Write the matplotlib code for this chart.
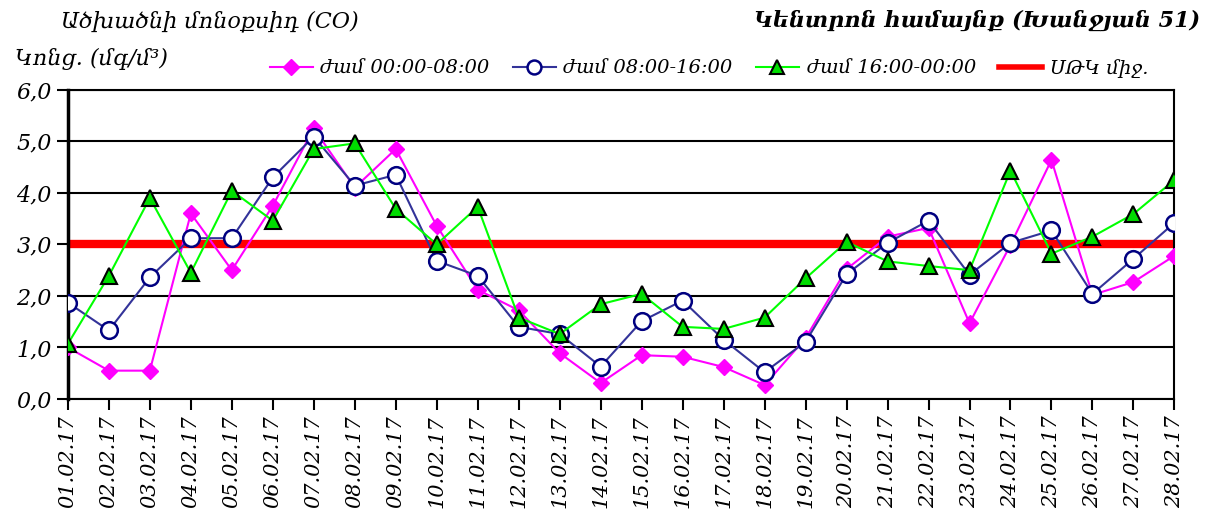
import matplotlib
matplotlib.use("Agg")
import matplotlib.pyplot as plt
from matplotlib.lines import Line2D

plt.rcParams['font.family'] = ['DejaVu Serif', 'DejaVu Sans']
plt.rcParams['font.style'] = 'italic'

dates = ["%02d.02.17" % d for d in range(1, 29)]

night = [1.0, 0.55, 0.55, 3.6, 2.5, 3.75, 5.25, 4.1, 4.85, 3.36,
         2.12, 1.72, 0.89, 0.31, 0.85, 0.82, 0.62, 0.27, 1.18, 2.52,
         3.15, 3.32, 1.47, 2.99, 4.64, 2.02, 2.27, 2.78]
day = [1.87, 1.33, 2.36, 3.12, 3.12, 4.3, 5.09, 4.14, 4.35, 2.68,
       2.39, 1.40, 1.26, 0.63, 1.51, 1.91, 1.15, 0.52, 1.11, 2.42,
       3.03, 3.46, 2.41, 3.03, 3.27, 2.04, 2.72, 3.42]
evening = [1.07, 2.39, 3.9, 2.45, 4.04, 3.46, 4.85, 4.96, 3.69, 3.0,
           3.73, 1.58, 1.26, 1.84, 2.04, 1.40, 1.36, 1.58, 2.34, 3.05,
           2.67, 2.58, 2.5, 4.43, 2.82, 3.15, 3.59, 4.25]
limit = 3.0

labels = ["ժամ 00:00-08:00", "ժամ 08:00-16:00", "ժամ 16:00-00:00", "ՍԹԿ միջ."]

fig = plt.figure(figsize=(12.12, 5.25), dpi=100)
ax = fig.add_axes([0.056, 0.24, 0.913, 0.589])

x = list(range(len(dates)))
ax.plot(x, [limit] * len(x), color='#ff0000', lw=6, zorder=2)
ax.plot(x, night, color='#ff00ff', lw=1.5, marker='D', ms=8,
        mfc='#ff00ff', mec='#ff00ff', zorder=3)
ax.plot(x, day, color='#333399', lw=1.5, marker='o', ms=12,
        mfc='white', mec='#000080', mew=1.8, zorder=4)
ax.plot(x, evening, color='#00ff00', lw=1.5, marker='^', ms=12,
        mfc='#00dd00', mec='black', mew=1.5, zorder=5)

ax.set_xlim(0, len(dates) - 1)
ax.set_ylim(0, 6)
ax.set_yticks([0, 1, 2, 3, 4, 5, 6])
ax.set_yticklabels([("%.1f" % v).replace('.', ',') for v in range(7)], fontsize=16)
ax.set_xticks(x)
ax.set_xticklabels(dates, rotation=90, fontsize=15)
ax.yaxis.grid(True, color='black', lw=1.5)
ax.set_axisbelow(True)
ax.tick_params(axis='both', direction='out', length=8, width=1.5, color='black')
for s in ax.spines.values():
    s.set_linewidth(1.5)
ax.spines['left'].set_linewidth(2.5)

handles = [
    Line2D([], [], color='#ff00ff', lw=1.5, marker='D', ms=8, mfc='#ff00ff', mec='#ff00ff'),
    Line2D([], [], color='#333399', lw=1.5, marker='o', ms=10, mfc='white', mec='#000080', mew=1.8),
    Line2D([], [], color='#00ff00', lw=1.5, marker='^', ms=10, mfc='#00dd00', mec='black', mew=1.5),
    Line2D([], [], color='#ff0000', lw=4),
]
fig.legend(handles, labels, loc='center', bbox_to_anchor=(0.585, 0.87), ncol=4,
           frameon=False, fontsize=14, handlelength=2.2, columnspacing=1.2,
           handletextpad=0.4)

fig.text(0.05, 0.96, "Ածխածնի մոնօքսիդ (CO)", fontsize=16, ha='left', va='center')
fig.text(0.012, 0.888, "Կոնց. (մգ/մ³)", fontsize=16, ha='left', va='center')
fig.text(0.99, 0.96, "Կենտրոն համայնք (Խանջյան 51)", fontsize=16,
         fontweight='bold', ha='right', va='center')

fig.savefig("out.png", dpi=100)
